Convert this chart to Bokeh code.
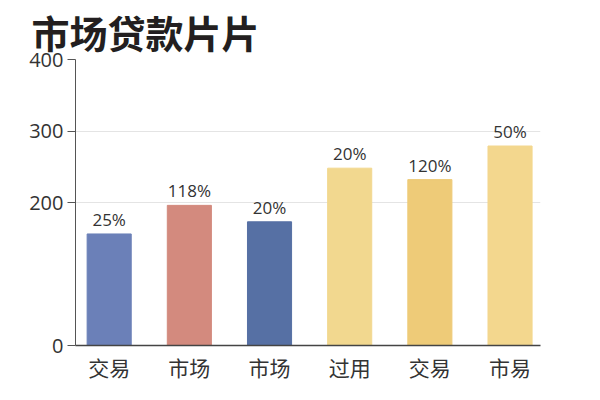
from bokeh.plotting import figure
from bokeh.models import FixedTicker, ColumnDataSource, LabelSet
from bokeh.core.properties import value
from bokeh.embed import file_html
from bokeh.resources import INLINE

title_text = "市场贷款片片"
categories = ["交易", "市场", "市场", "过用", "交易", "市易"]
values = [156, 196, 173, 248, 232, 279]
bar_labels = ["25%", "118%", "20%", "20%", "120%", "50%"]
bar_colors = ["#6b80b8", "#d38a7e", "#5670a4", "#f2d88f", "#eecb78", "#f3d78e"]
y_ticks = [0, 200, 300, 400]

FONT = "Noto Sans CJK SC"

xs = list(range(len(categories)))
src = ColumnDataSource(dict(x=xs, top=values, color=bar_colors, lab=bar_labels))

p = figure(width=584, height=384, output_backend="svg", toolbar_location=None,
           x_range=(-0.42, 5.38), y_range=(0, 400),
           min_border_left=75, min_border_right=44, min_border_top=2, min_border_bottom=0)
p.background_fill_color = "#ffffff"
p.border_fill_color = "#ffffff"
p.outline_line_color = None

p.title.text = title_text
p.title.text_font = FONT
p.title.text_font_size = "38px"
p.title.text_font_style = "bold"
p.title.text_color = "#231f20"
p.title.offset = -44
p.title.standoff = 2

p.vbar(x="x", top="top", width=0.55, color="color", source=src)

labels = LabelSet(x="x", y="top", text="lab", source=src, text_align="center",
                  text_baseline="bottom", y_offset=3, text_font_size="17px",
                  text_color="#333333", text_font=value("Open Sans"))
p.add_layout(labels)

p.yaxis.ticker = FixedTicker(ticks=y_ticks)
p.yaxis.minor_tick_line_color = None
p.yaxis.major_tick_out = 8
p.yaxis.major_tick_in = 0
p.yaxis.axis_line_color = "#555555"
p.yaxis.major_tick_line_color = "#555555"
p.yaxis.major_label_text_font = "Open Sans"
p.yaxis.major_label_text_font_size = "20px"
p.yaxis.major_label_text_color = "#333333"
p.yaxis.major_label_standoff = 4

p.xaxis.ticker = FixedTicker(ticks=xs)
p.xaxis.major_label_overrides = {i: c for i, c in enumerate(categories)}
p.xaxis.major_tick_line_color = None
p.xaxis.minor_tick_line_color = None
p.xaxis.major_tick_out = 0
p.xaxis.major_tick_in = 0
p.xaxis.axis_line_color = "#444444"
p.xaxis.axis_line_width = 1.5
p.xaxis.major_label_text_font = FONT
p.xaxis.major_label_text_font_size = "21px"
p.xaxis.major_label_text_color = "#333333"
p.xaxis.major_label_standoff = 6

p.xgrid.grid_line_color = None
p.ygrid.ticker = FixedTicker(ticks=y_ticks)
p.ygrid.grid_line_color = "#e4e4e4"

open("out.html", "w").write(file_html(p, INLINE))
